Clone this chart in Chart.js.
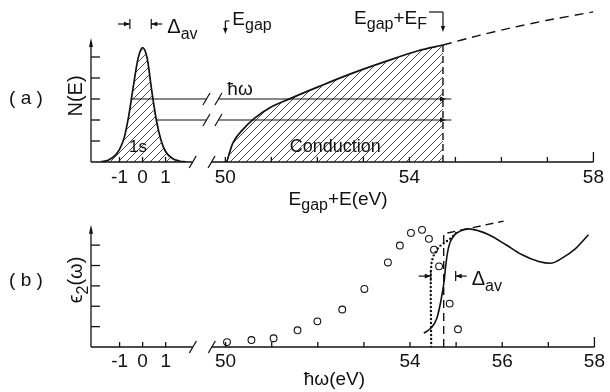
<!DOCTYPE html>
<html lang="en">
<head>
  <meta charset="UTF-8" />
  <title>1s core level and conduction band: N(E) and absorption</title>
  <script src="https://cdn.jsdelivr.net/npm/chart.js"></script>
  <style>
    body { margin: 0; background: #fff; }
    .fig { position: relative; width: 610px; height: 392px; }
    .fig canvas { position: absolute; left: 0; }
    #chartA { top: 0; }
    #chartB { top: 212px; }
  </style>
</head>
<body>
  <div class="fig">
    <canvas id="chartA" width="610" height="215"></canvas>
    <canvas id="chartB" width="610" height="180"></canvas>
  </div>

  <script>
    // x ticks: left block is E around the 1s level, right block is energy in eV
    const coreTicks = [-1, 0, 1];
    const bandTicks = [50, 51, 52, 53, 54, 55, 56, 57, 58];
    const bandLabelsA = [50, 54, 58];
    const bandLabelsB = [50, 54, 56, 58];
    const yTicks = [1, 2, 3, 4, 5];

    // (a) broadened 1s level
    const peakE = [-1.8, -1.5, -1.2, -1.0, -0.8, -0.6, -0.4, -0.2, 0.0, 0.2, 0.4, 0.6, 0.8, 1.0, 1.3, 1.6, 1.9];
    const peakN = [0.02, 0.08, 0.3, 0.6, 1.15, 2.2, 3.6, 4.9, 5.45, 4.95, 3.4, 2.0, 1.05, 0.5, 0.17, 0.05, 0];

    // (a) conduction band, filled up to E_F, empty part dashed
    const condE = [50.03, 50.16, 50.37, 50.63, 50.95, 51.42, 52.03, 52.75, 53.47, 54.19, 54.73];
    const condN = [0, 0.89, 1.52, 2.08, 2.56, 3.03, 3.59, 4.22, 4.78, 5.30, 5.57];
    const emptyE = [54.73, 55.5, 56.2, 57.0, 58.0];
    const emptyN = [5.57, 6.02, 6.38, 6.75, 7.15];
    const fermiE = 54.73;

    // (a) photon transitions
    const photonN = [3, 2];
    const photonFrom = [-0.52, 0.6];
    const photonTo = 54.91;
    const fwhmA = [-0.55, 0.38];

    // (b) epsilon_2: measured (circles), calculated (solid), dotted and dashed models
    const expW = [50.03, 50.56, 51.04, 51.56, 51.99, 52.53, 53.01, 53.52, 53.78, 54.02, 54.26, 54.41, 54.52, 54.63, 54.86, 55.04];
    const expEps = [0.24, 0.34, 0.43, 0.82, 1.26, 1.84, 2.85, 4.15, 4.98, 5.60, 5.75, 5.31, 4.78, 3.96, 2.13, 0.87];
    const calcW = [54.30, 54.45, 54.58, 54.67, 54.74, 54.78, 54.84, 54.95, 55.10, 55.28, 55.49, 55.71, 56.08, 56.42, 56.79, 57.05, 57.29, 57.59, 57.87];
    const calcEps = [0.68, 0.92, 1.40, 2.27, 3.24, 4.11, 4.93, 5.46, 5.70, 5.80, 5.70, 5.51, 5.02, 4.54, 4.20, 4.11, 4.35, 4.83, 5.51];
    const dotW = [54.46, 54.45, 54.45, 54.47, 54.52, 54.63, 54.78, 54.91, 55.0];
    const dotEps = [0, 2.3, 3.7, 4.2, 4.54, 4.93, 5.17, 5.38, 5.6];
    const stepW = [54.73, 54.73, 56.03];
    const stepEps = [0, 5.56, 6.18];
    const fwhmB = [54.45, 54.99];

    const ink = '#111';
    const FONT = '"Liberation Sans", "DejaVu Sans", sans-serif';
    Chart.defaults.font.family = FONT;
    Chart.defaults.color = ink;

    // left block drawn at half scale just before the axis break
    const toU = e => 48.2 + 0.5 * e;
    const xMin = 47.08, xMax = 58;
    const axisBreak = [49.29, 49.70];
    const lineBreak = [49.59, 49.85];

    const tickVals = coreTicks.map(toU).concat(bandTicks);
    const tickText = labels => coreTicks.map(String)
      .concat(bandTicks.map(v => labels.includes(v) ? String(v) : ''));
    const pts = (xs, ys) => xs.map((x, i) => ({ x, y: ys[i] }));

    function hatch(canvasId) {
      const c = document.createElement('canvas');
      c.width = c.height = 8;
      const g = c.getContext('2d');
      g.strokeStyle = '#222';
      g.lineWidth = 0.8;
      g.beginPath();
      g.moveTo(-2, 2); g.lineTo(2, -2);
      g.moveTo(0, 8); g.lineTo(8, 0);
      g.moveTo(6, 10); g.lineTo(10, 6);
      g.stroke();
      return document.getElementById(canvasId).getContext('2d').createPattern(c, 'repeat');
    }

    function seg(ctx, x1, y1, x2, y2) {
      ctx.beginPath(); ctx.moveTo(x1, y1); ctx.lineTo(x2, y2); ctx.stroke();
    }
    function head(ctx, x, y, dx, dy, len = 7, half = 2.5) {
      ctx.beginPath();
      ctx.moveTo(x, y);
      ctx.lineTo(x - dx * len - dy * half, y - dy * len + dx * half);
      ctx.lineTo(x - dx * len + dy * half, y - dy * len - dx * half);
      ctx.closePath();
      ctx.fill();
    }
    function slash(ctx, x, y) { seg(ctx, x - 3.5, y + 6, x + 3.5, y - 6); }

    // text with subscripts: parts = [[text, isSub], ...]
    function rich(ctx, x, y, parts, size, align) {
      const sub = Math.round(size * 0.82);
      let w = 0;
      const ws = parts.map(([t, s]) => {
        ctx.font = (s ? sub : size) + 'px ' + FONT;
        const m = ctx.measureText(t).width;
        w += m;
        return m;
      });
      let cx = align === 'center' ? x - w / 2 : align === 'right' ? x - w : x;
      ctx.textAlign = 'left';
      ctx.textBaseline = 'alphabetic';
      parts.forEach(([t, s], i) => {
        ctx.font = (s ? sub : size) + 'px ' + FONT;
        ctx.fillText(t, cx, s ? y + size * 0.28 : y);
        cx += ws[i];
      });
    }
    function vertical(ctx, x, y, parts, size) {
      ctx.save();
      ctx.translate(x, y);
      ctx.rotate(-Math.PI / 2);
      rich(ctx, 0, size * 0.36, parts, size, 'center');
      ctx.restore();
    }
    function fwhmMark(ctx, xl, xr, y) {
      seg(ctx, xl - 12, y, xl, y); head(ctx, xl, y, 1, 0, 6, 2.3); seg(ctx, xl, y - 5, xl, y + 5);
      seg(ctx, xr, y, xr + 11, y); head(ctx, xr, y, -1, 0, 6, 2.3); seg(ctx, xr, y - 5, xr, y + 5);
      rich(ctx, xr + 16, y + 9, [['Δ'], ['av', 1]], 20);
    }

    function drawA(ctx, x, y) {
      const px = v => x.getPixelForValue(v);
      fwhmMark(ctx, px(toU(fwhmA[0])), px(toU(fwhmA[1])), 24);

      const xg = px(50);
      seg(ctx, xg, 21, xg + 4, 21); seg(ctx, xg, 21, xg, 30); head(ctx, xg, 34, 0, 1, 6, 2.2);
      rich(ctx, xg + 7, 25, [['E'], ['gap', 1]], 19);

      const xf = px(fermiE);
      seg(ctx, xf - 14, 12, xf, 12); seg(ctx, xf, 12, xf, 28); head(ctx, xf, 32, 0, 1, 6, 2.2);
      rich(ctx, xf - 16, 24, [['E'], ['gap', 1], ['+E'], ['F', 1]], 19, 'right');

      photonN.forEach(n => {
        const py = y.getPixelForValue(n);
        head(ctx, xf + 3, py, 1, 0, 6, 2.4);
        slash(ctx, px(lineBreak[0]), py);
        slash(ctx, px(lineBreak[1]), py);
      });

      rich(ctx, px(50) + 2, 95, [['ħω']], 19);
      rich(ctx, px(toU(-0.2)), 152, [['1s']], 17, 'center');
      rich(ctx, px(52.39), 152, [['Conduction']], 18, 'center');
      rich(ctx, px(52.45), 205, [['E'], ['gap', 1], ['+E(eV)']], 19, 'center');

      ctx.font = '19px ' + FONT;
      ctx.textAlign = 'center';
      ctx.textBaseline = 'middle';
      ctx.fillText('( a )', 26, 99);
      vertical(ctx, 75, 96, [['N(E)']], 20);
    }

    function drawB(ctx, x, y) {
      const px = v => x.getPixelForValue(v);
      fwhmMark(ctx, px(fwhmB[0]), px(fwhmB[1]), y.getPixelForValue(3.48));
      rich(ctx, px(52.36), 173, [['ħω(eV)']], 19, 'center');

      ctx.font = '19px ' + FONT;
      ctx.textAlign = 'center';
      ctx.textBaseline = 'middle';
      ctx.fillText('( b )', 26, 69);
      vertical(ctx, 75, 68, [['ϵ'], ['2', 1], ['(ω)']], 20);
    }

    // axes with inward ticks, arrow on the y axis and a break in the x axis
    function frame(drawExtra, arrowTop) {
      return {
        id: 'frame',
        afterDatasetsDraw(chart) {
          const { ctx, chartArea: a, scales: { x, y } } = chart;
          const y0 = y.getPixelForValue(0);
          ctx.save();
          ctx.strokeStyle = ink;
          ctx.fillStyle = ink;
          ctx.lineWidth = 1.3;

          const yt = y.getPixelForValue(arrowTop);
          seg(ctx, a.left, y0, a.left, yt + 4);
          head(ctx, a.left, yt, 0, -1, 9, 2);
          yTicks.forEach(v => {
            const py = y.getPixelForValue(v);
            seg(ctx, a.left, py, a.left + 9, py);
          });

          const b1 = x.getPixelForValue(axisBreak[0]);
          const b2 = x.getPixelForValue(axisBreak[1]);
          seg(ctx, a.left, y0, b1, y0);
          seg(ctx, b2, y0, a.right, y0);
          slash(ctx, b1, y0);
          slash(ctx, b2, y0);
          x.ticks.forEach((t, i) => {
            const p = x.getPixelForValue(t.value);
            seg(ctx, p, y0, p, y0 - (i === x.ticks.length - 1 ? 10 : 5));
          });

          ctx.lineWidth = 1.2;
          drawExtra(ctx, x, y);
          ctx.restore();
        }
      };
    }

    function xAxis(labels, height, pad) {
      const text = tickText(labels);
      return {
        type: 'linear',
        min: xMin,
        max: xMax,
        grid: { display: false, drawTicks: false },
        border: { display: false },
        afterBuildTicks: s => { s.ticks = tickVals.map(v => ({ value: v })); },
        afterFit: s => { s.height = height; },
        ticks: {
          autoSkip: false,
          maxRotation: 0,
          padding: pad,
          color: ink,
          font: { size: 19, lineHeight: 1 },
          callback: (v, i) => text[i]
        }
      };
    }

    const common = {
      responsive: false,
      animation: false,
      plugins: { legend: { display: false }, tooltip: { enabled: false } },
      elements: { point: { radius: 0 } }
    };

    const photonLine = (n, i) => [
      { x: toU(photonFrom[i]), y: n },
      { x: lineBreak[0], y: n },
      { x: (lineBreak[0] + lineBreak[1]) / 2, y: null },
      { x: lineBreak[1], y: n },
      { x: photonTo, y: n }
    ];

    new Chart(document.getElementById('chartA'), {
      type: 'line',
      data: {
        datasets: [
          {
            data: peakE.map((e, i) => ({ x: toU(e), y: peakN[i] })),
            borderColor: ink, borderWidth: 1.7, cubicInterpolationMode: 'monotone',
            fill: 'origin', backgroundColor: hatch('chartA')
          },
          {
            data: pts(condE, condN),
            borderColor: ink, borderWidth: 1.7, cubicInterpolationMode: 'monotone',
            fill: 'origin', backgroundColor: hatch('chartA')
          },
          {
            data: pts(emptyE, emptyN),
            borderColor: ink, borderWidth: 1.4, borderDash: [9, 6], tension: 0.2
          },
          {
            data: [{ x: fermiE, y: 0 }, { x: fermiE, y: condN[condN.length - 1] }],
            borderColor: ink, borderWidth: 1.4, borderDash: [7, 4]
          },
          ...photonN.map((n, i) => ({
            data: photonLine(n, i),
            borderColor: ink, borderWidth: 1.1, spanGaps: false
          }))
        ]
      },
      options: {
        ...common,
        layout: { padding: { left: 91, right: 14, top: 5, bottom: 0 } },
        scales: {
          x: xAxis(bandLabelsA, 53, 6),
          y: { display: false, min: 0, max: 157 / 21 }
        }
      },
      plugins: [frame(drawA, 5.9)]
    });

    new Chart(document.getElementById('chartB'), {
      type: 'line',
      data: {
        datasets: [
          {
            data: pts(stepW, stepEps),
            borderColor: ink, borderWidth: 1.4, borderDash: [8, 5]
          },
          {
            data: pts(dotW, dotEps),
            borderColor: ink, borderWidth: 2.4, borderDash: [0, 4], borderCapStyle: 'round'
          },
          {
            data: pts(calcW, calcEps),
            borderColor: ink, borderWidth: 1.6, cubicInterpolationMode: 'monotone'
          },
          {
            data: pts(expW, expEps),
            showLine: false, pointRadius: 3.4, pointBorderWidth: 1.1,
            pointBorderColor: ink, pointBackgroundColor: '#fff'
          }
        ]
      },
      options: {
        ...common,
        layout: { padding: { left: 91, right: 14, top: 3, bottom: 0 } },
        scales: {
          x: xAxis(bandLabelsB, 45, 5),
          y: { display: false, min: 0, max: 132 / 20.7 }
        }
      },
      plugins: [frame(drawB, 6.0)]
    });
  </script>
</body>
</html>
